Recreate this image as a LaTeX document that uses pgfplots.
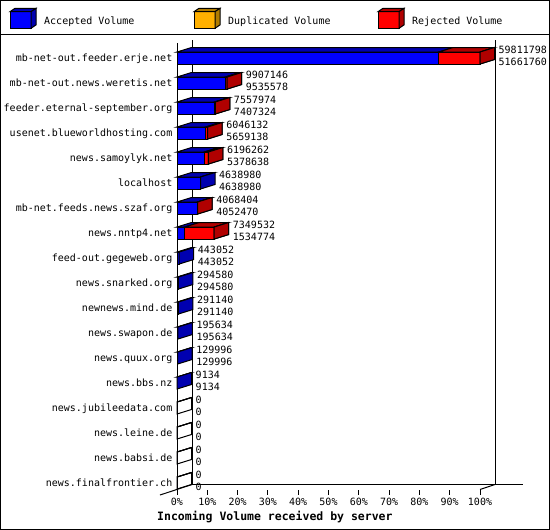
\documentclass[border=0pt]{standalone}
\usepackage{pgfplots}
\pgfplotsset{compat=1.18}
\usepackage{pgfplotstable}
\usepackage{fontspec}
\setmainfont{DejaVu Sans Mono}
\setmonofont{DejaVu Sans Mono}

\definecolor{accfront}{HTML}{0000FF}
\definecolor{accside}{HTML}{0000B0}
\definecolor{dupfront}{HTML}{FFB000}
\definecolor{dupside}{HTML}{B07C00}
\definecolor{rejfront}{HTML}{FF0000}
\definecolor{rejside}{HTML}{B00000}

\newcommand\gdfont{\fontsize{10bp}{12bp}\selectfont}
\newcommand\titlefont{\fontsize{11.5bp}{14bp}\selectfont\bfseries}
\pgfdeclareplotmark{nomark}{}

% incoming volume per server: total, accepted, rejected (no duplicates)
\pgfplotstableread{
idx total acc rej
0 59811798 51661760 8150038
1 9907146 9535578 371568
2 7557974 7407324 150650
3 6046132 5659138 386994
4 6196262 5378638 817624
5 4638980 4638980 0
6 4068404 4052470 15934
7 7349532 1534774 5814758
8 443052 443052 0
9 294580 294580 0
10 291140 291140 0
11 195634 195634 0
12 129996 129996 0
13 9134 9134 0
14 0 0 0
15 0 0 0
16 0 0 0
17 0 0 0
}\feeds

% legend swatch, x = left edge of front face
\newcommand\legendbox[3]{%
  \filldraw[fill=#2, draw=black, line width=1bp] (#1bp,-11.7bp) rectangle ++(21bp,-16.6bp);
  \filldraw[fill=#3, draw=black, line width=1bp] (#1bp,-11.7bp) -- ++(5bp,3.4bp) -- ++(21bp,0) -- ++(-5bp,-3.4bp) -- cycle;
  \filldraw[fill=#3, draw=black, line width=1bp] ([xshift=21bp]#1bp,-11.7bp) -- ++(5bp,3.4bp) -- ++(0,-16.6bp) -- ++(-5bp,-3.4bp) -- cycle;
}

\pgfplotsset{
  face/.style={scatter, only marks, mark=nomark, point meta=explicit symbolic,
    scatter/@post marker code/.code={}},
  topface/.style={face, scatter/@pre marker code/.code={%
    \filldraw[fill=#1, draw=black, line width=1bp] (0bp,6bp)
      -- ++(axis direction cs:\pgfplotspointmeta,0) -- ++(14.5bp,4.5bp)
      -- ++(axis direction cs:-\pgfplotspointmeta,0) -- cycle;}},
  vlabel/.style={only marks, mark=nomark, point meta=explicit symbolic,
    nodes near coords={\pgfplotspointmeta},
    every node near coord/.append style={anchor=west, xshift=18.5bp, yshift=#1,
      inner sep=0pt, font=\gdfont, text=black, text height=7.3bp, text depth=0pt}},
}

\begin{document}
\begin{tikzpicture}
\path[use as bounding box] (0,0) rectangle (550bp,-530bp);
\draw[line width=1bp] (0.5bp,-0.5bp) rectangle (549.5bp,-529.5bp);
\draw[line width=1bp] (0,-34.5bp) -- (550bp,-34.5bp);

% legend
\legendbox{10}{accfront}{accside}
\legendbox{194}{dupfront}{dupside}
\legendbox{378}{rejfront}{rejside}
\node[anchor=base west, inner sep=0pt, font=\gdfont] at (44bp,-24.2bp) {Accepted Volume};
\node[anchor=base west, inner sep=0pt, font=\gdfont] at (228bp,-24.2bp) {Duplicated Volume};
\node[anchor=base west, inner sep=0pt, font=\gdfont] at (412bp,-24.2bp) {Rejected Volume};

% walls and floor
\begin{scope}[line width=1bp]
\draw (177bp,-43bp) -- (177bp,-489.5bp);
\draw (192bp,-40bp) -- (192bp,-484.5bp);
\draw (495bp,-40bp) -- (495bp,-484.5bp);
\draw (192bp,-484.5bp) -- (523bp,-484.5bp);
\draw (160bp,-495bp) -- (192bp,-484.5bp);
\draw (480bp,-489.5bp) -- (495bp,-484.5bp);
\end{scope}

\begin{axis}[
  at={(177bp,-43bp)}, anchor=north west,
  scale only axis, width=303bp, height=447bp,
  xmin=0, xmax=59811798, ymin=-0.6, ymax=17.28,
  enlargelimits=false, y dir=reverse, clip=false,
  axis x line*=bottom, axis y line*=left,
  axis line style={draw=none},
  tick align=outside, major tick length=4.5bp,
  scaled x ticks=false,
  xtick={0,5981179.8,11962359.6,17943539.4,23924719.2,29905899,35887078.8,41868258.6,47849438.4,53830618.2,59811798},
  xticklabels={0\%,10\%,20\%,30\%,40\%,50\%,60\%,70\%,80\%,90\%,100\%},
  xtick style={draw=black, line width=1bp},
  ytick={0,...,17},
  yticklabels={mb-net-out.feeder.erje.net,mb-net-out.news.weretis.net,feeder.eternal-september.org,usenet.blueworldhosting.com,news.samoylyk.net,localhost,mb-net.feeds.news.szaf.org,news.nntp4.net,feed-out.gegeweb.org,news.snarked.org,newnews.mind.de,news.swapon.de,news.quux.org,news.bbs.nz,news.jubileedata.com,news.leine.de,news.babsi.de,news.finalfrontier.ch},
  ytick style={draw=none},
  ticklabel style={font=\gdfont, inner sep=0pt, text height=7.3bp, text depth=0pt},
  xticklabel style={yshift=-3.5bp},
  xlabel={Incoming Volume received by server},
  xlabel style={font=\titlefont, anchor=west, inner sep=0pt, at={(axis description cs:-0.066,-0.0604)}},
]
% front faces: total in red, accepted in blue over it
\addplot[xbar, bar width=12bp, bar shift=0pt, fill=rejfront, draw=black, line width=1bp]
  table[x=total, y=idx] {\feeds};
\addplot[xbar, bar width=12bp, bar shift=0pt, fill=accfront, draw=black, line width=1bp]
  table[x=acc, y=idx] {\feeds};
% top faces
\addplot[topface=accside] table[x expr=0, y=idx, meta=acc] {\feeds};
\addplot[topface=rejside] table[x=acc, y=idx, meta=rej] {\feeds};
% side faces (outline only where nothing came in)
\addplot[face, scatter/@pre marker code/.code={%
    \ifnum\pgfplotspointmeta=0 \def\sidefill{none}\else\def\sidefill{accside}\fi
    \filldraw[fill=\sidefill, draw=black, line width=1bp] (0bp,-6bp) -- (0bp,6bp)
      -- (14.5bp,10.5bp) -- (14.5bp,-1.5bp) -- cycle;}]
  table[x=total, y=idx, meta=total] {\feeds};
\addplot[face, scatter/@pre marker code/.code={%
    \ifnum\pgfplotspointmeta>0
    \filldraw[fill=rejside, draw=black, line width=1bp] (0bp,-6bp) -- (0bp,6bp)
      -- (14.5bp,10.5bp) -- (14.5bp,-1.5bp) -- cycle;\fi}]
  table[x=total, y=idx, meta=rej] {\feeds};
% value labels: total above, accepted below
\addplot[vlabel=8bp] table[x=total, y=idx, meta=total] {\feeds};
\addplot[vlabel=-3.5bp] table[x=total, y=idx, meta=acc] {\feeds};
\end{axis}
\end{tikzpicture}
\end{document}
